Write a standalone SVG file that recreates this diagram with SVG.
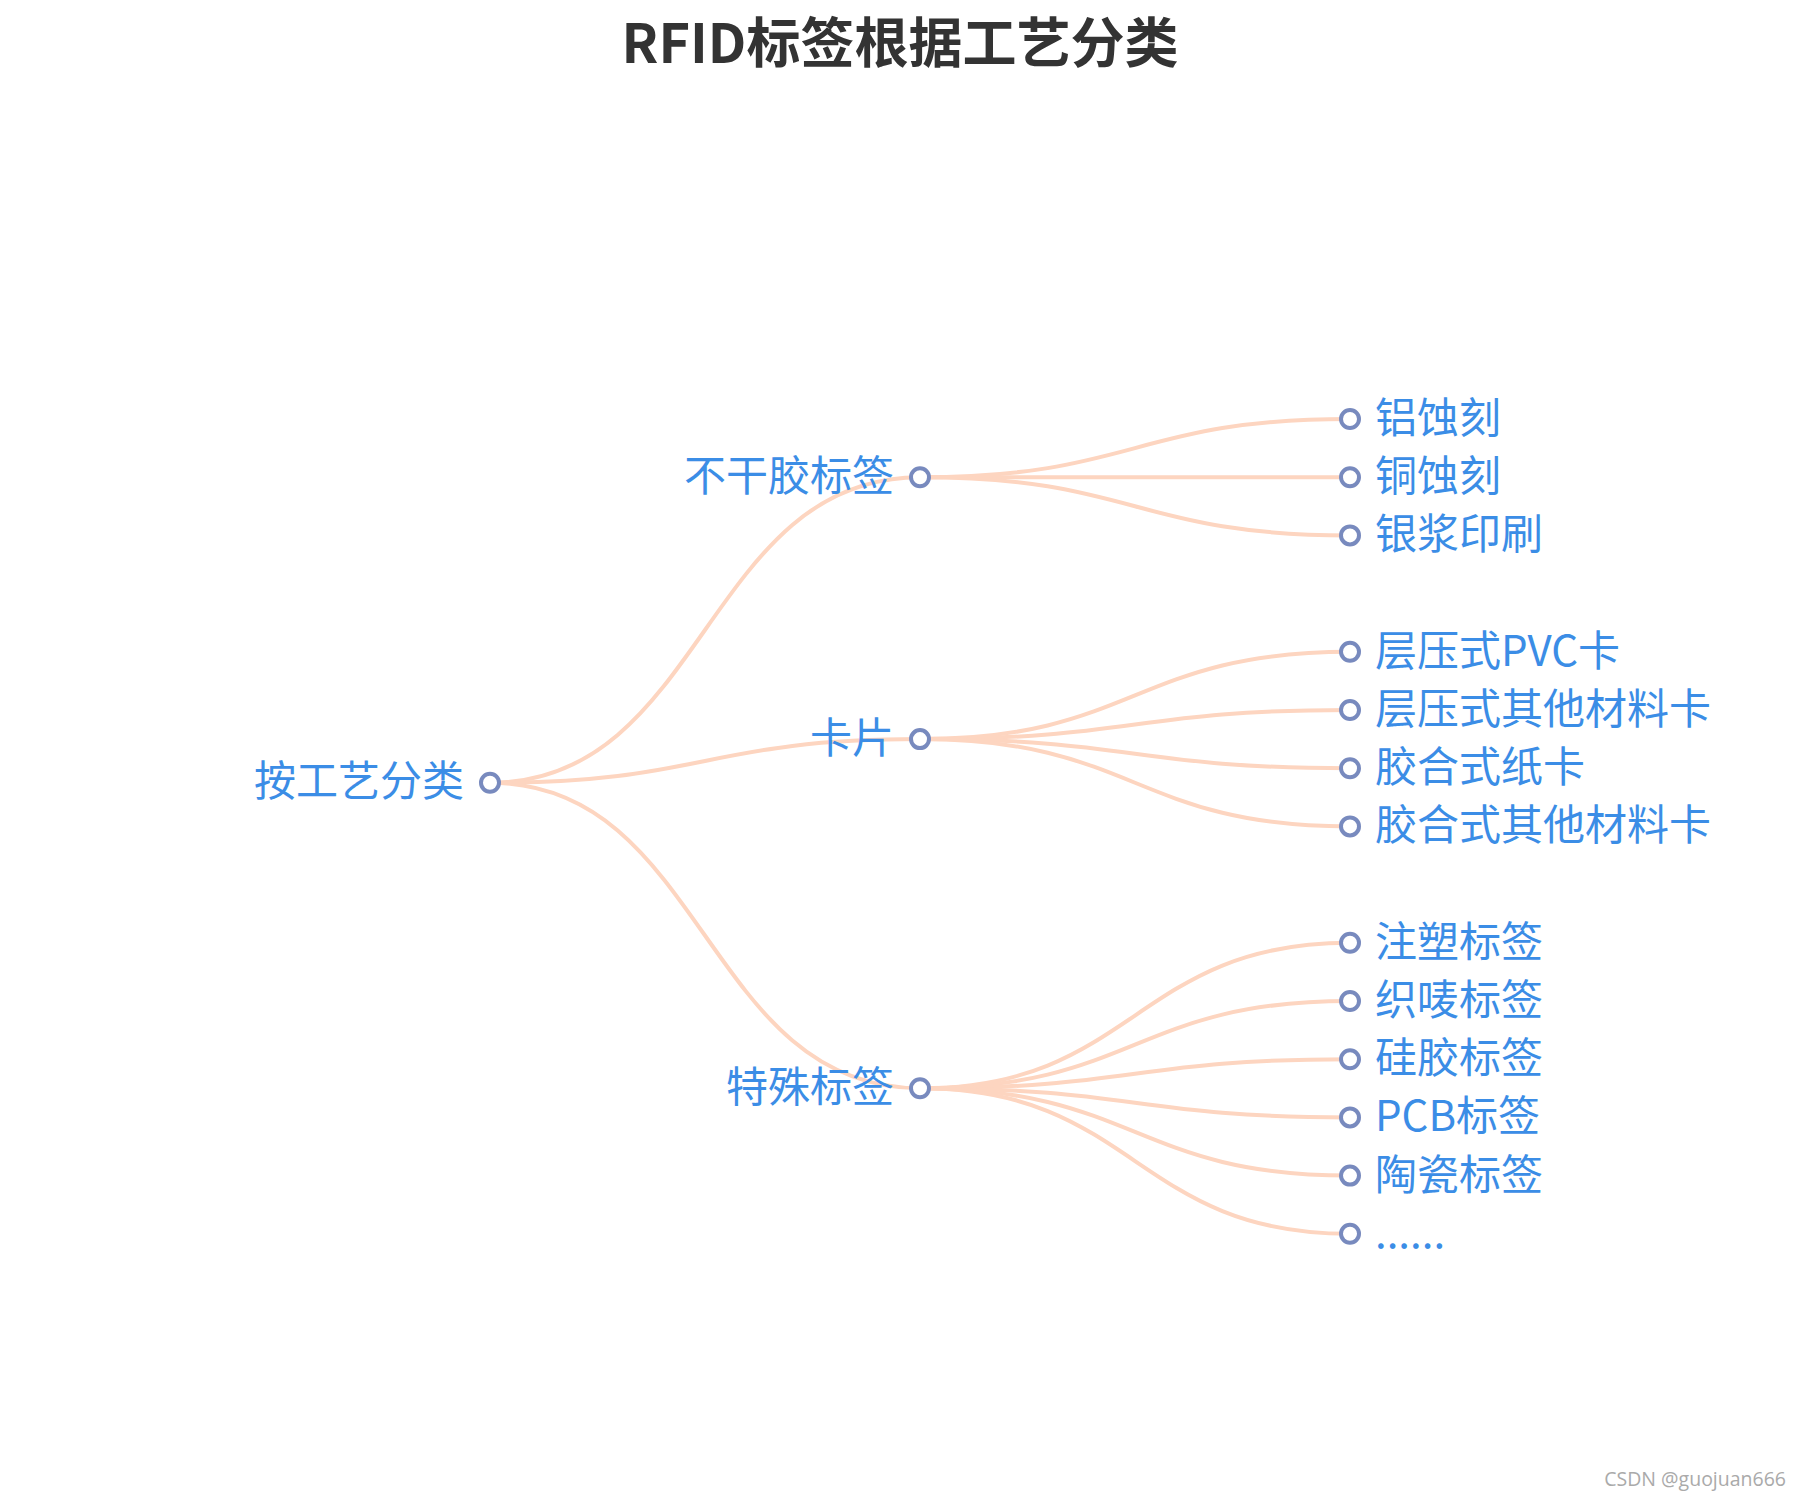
<svg xmlns="http://www.w3.org/2000/svg" width="1800" height="1500" viewBox="0 0 1800 1500">
<style>
.edge{fill:none;stroke:#fdd5c0;stroke-width:4}
.node circle{fill:#fff;stroke:#788abe;stroke-width:4}
.lbl{font-family:"Noto Sans CJK SC","Microsoft YaHei",sans-serif;font-size:42px;fill:#3b8de6}
.l{text-anchor:end}
.r{text-anchor:start}
</style>
<rect width="1800" height="1500" fill="#fff"/>
<text x="900" y="63" text-anchor="middle" font-family="Noto Sans CJK SC, sans-serif" font-weight="bold" font-size="54" fill="#333">RFID标签根据工艺分类</text>
<g id="connectors">
<path class="edge" d="M490,782.75 C705,782.75 705,477.2 920,477.2"/>
<path class="edge" d="M490,782.75 C705,782.75 705,739.1 920,739.1"/>
<path class="edge" d="M490,782.75 C705,782.75 705,1088.3 920,1088.3"/>
<path class="edge" d="M920,477.2 C1135,477.2 1135,419 1350,419"/>
<path class="edge" d="M920,477.2 C1135,477.2 1135,477.2 1350,477.2"/>
<path class="edge" d="M920,477.2 C1135,477.2 1135,535.4 1350,535.4"/>
<path class="edge" d="M920,739.1 C1135,739.1 1135,651.8 1350,651.8"/>
<path class="edge" d="M920,739.1 C1135,739.1 1135,710 1350,710"/>
<path class="edge" d="M920,739.1 C1135,739.1 1135,768.2 1350,768.2"/>
<path class="edge" d="M920,739.1 C1135,739.1 1135,826.4 1350,826.4"/>
<path class="edge" d="M920,1088.3 C1135,1088.3 1135,942.8 1350,942.8"/>
<path class="edge" d="M920,1088.3 C1135,1088.3 1135,1001 1350,1001"/>
<path class="edge" d="M920,1088.3 C1135,1088.3 1135,1059.2 1350,1059.2"/>
<path class="edge" d="M920,1088.3 C1135,1088.3 1135,1117.4 1350,1117.4"/>
<path class="edge" d="M920,1088.3 C1135,1088.3 1135,1175.6 1350,1175.6"/>
<path class="edge" d="M920,1088.3 C1135,1088.3 1135,1233.8 1350,1233.8"/>
</g>
<g id="n-root" class="node"><circle cx="490" cy="782.75" r="9"/><text class="lbl l" x="464" y="796">按工艺分类</text></g>
<g id="n-a" class="node"><circle cx="920" cy="477.2" r="9"/><text class="lbl l" x="894" y="491">不干胶标签</text></g>
<g id="n-b" class="node"><circle cx="920" cy="739.1" r="9"/><text class="lbl l" x="894" y="753">卡片</text></g>
<g id="n-c" class="node"><circle cx="920" cy="1088.3" r="9"/><text class="lbl l" x="894" y="1102">特殊标签</text></g>
<g id="n-a1" class="node"><circle cx="1350" cy="419" r="9"/><text class="lbl r" x="1375" y="433">铝蚀刻</text></g>
<g id="n-a2" class="node"><circle cx="1350" cy="477.2" r="9"/><text class="lbl r" x="1375" y="491">铜蚀刻</text></g>
<g id="n-a3" class="node"><circle cx="1350" cy="535.4" r="9"/><text class="lbl r" x="1375" y="549">银浆印刷</text></g>
<g id="n-b1" class="node"><circle cx="1350" cy="651.8" r="9"/><text class="lbl r" x="1375" y="666">层压式PVC卡</text></g>
<g id="n-b2" class="node"><circle cx="1350" cy="710" r="9"/><text class="lbl r" x="1375" y="724">层压式其他材料卡</text></g>
<g id="n-b3" class="node"><circle cx="1350" cy="768.2" r="9"/><text class="lbl r" x="1375" y="782">胶合式纸卡</text></g>
<g id="n-b4" class="node"><circle cx="1350" cy="826.4" r="9"/><text class="lbl r" x="1375" y="840">胶合式其他材料卡</text></g>
<g id="n-c1" class="node"><circle cx="1350" cy="942.8" r="9"/><text class="lbl r" x="1375" y="957">注塑标签</text></g>
<g id="n-c2" class="node"><circle cx="1350" cy="1001" r="9"/><text class="lbl r" x="1375" y="1015">织唛标签</text></g>
<g id="n-c3" class="node"><circle cx="1350" cy="1059.2" r="9"/><text class="lbl r" x="1375" y="1073">硅胶标签</text></g>
<g id="n-c4" class="node"><circle cx="1350" cy="1117.4" r="9"/><text class="lbl r" x="1375" y="1131">PCB标签</text></g>
<g id="n-c5" class="node"><circle cx="1350" cy="1175.6" r="9"/><text class="lbl r" x="1375" y="1190">陶瓷标签</text></g>
<g id="n-c6" class="node"><circle cx="1350" cy="1233.8" r="9"/><text class="lbl r" x="1375" y="1248">......</text></g>
<text x="1786" y="1486" text-anchor="end" font-family="Open Sans, sans-serif" font-size="19.5" fill="#aaa">CSDN @guojuan666</text>
</svg>
